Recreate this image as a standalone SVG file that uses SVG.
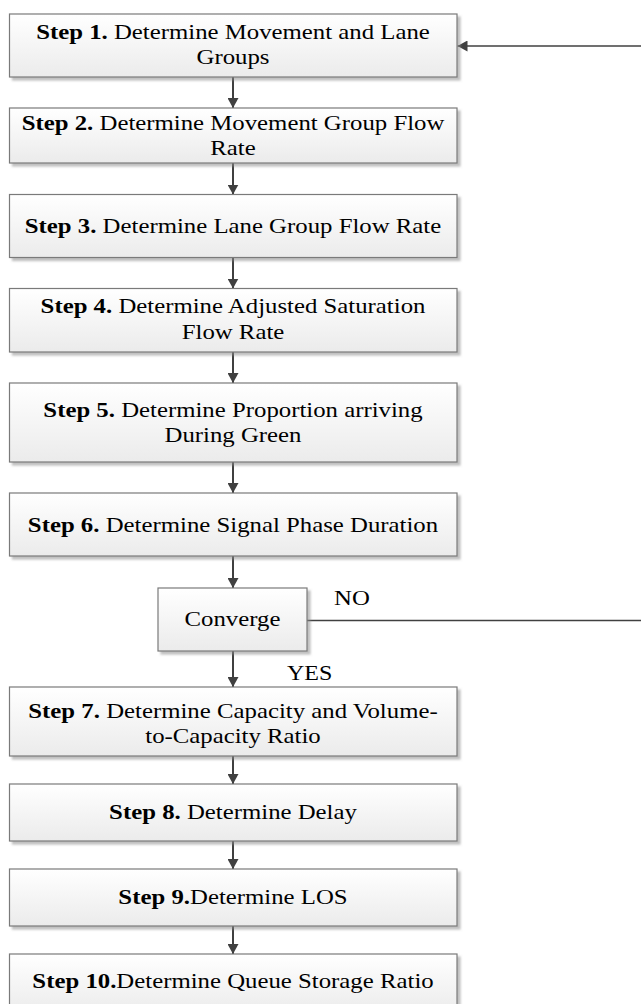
<svg xmlns="http://www.w3.org/2000/svg" width="641" height="1004" viewBox="0 0 641 1004">
<defs>
<linearGradient id="g" x1="0" y1="0" x2="0" y2="1">
<stop offset="0" stop-color="#ffffff"/>
<stop offset="1" stop-color="#ebebeb"/>
</linearGradient>
<filter id="sh" x="-5%" y="-10%" width="115%" height="130%">
<feDropShadow dx="3" dy="3" stdDeviation="1.2" flood-color="#8a8a8a" flood-opacity="0.55"/>
</filter>
<marker id="ah" markerUnits="userSpaceOnUse" markerWidth="11" markerHeight="11" refX="10" refY="5.5" orient="auto">
<path d="M0,0 L10,5.5 L0,11 z" fill="#404040"/>
</marker>
</defs>
<style>
.box{fill:url(#g);stroke:#7a7a7a;stroke-width:1.2;filter:url(#sh)}
.t{font-family:"Liberation Serif","Times New Roman",serif;font-size:20px;fill:#000;text-anchor:middle}
.l{font-family:"Liberation Serif","Times New Roman",serif;font-size:20px;fill:#000}
.b{font-weight:bold}
.c{stroke:#404040;stroke-width:2;fill:none}
.c1{stroke:#404040;stroke-width:1.3;fill:none}
</style>
<g id="connectors">
<line class="c" x1="233" y1="77" x2="233" y2="108" marker-end="url(#ah)"/>
<line class="c" x1="233" y1="163" x2="233" y2="194.5" marker-end="url(#ah)"/>
<line class="c" x1="233" y1="257.5" x2="233" y2="288.5" marker-end="url(#ah)"/>
<line class="c" x1="233" y1="352" x2="233" y2="383" marker-end="url(#ah)"/>
<line class="c" x1="233" y1="462" x2="233" y2="493" marker-end="url(#ah)"/>
<line class="c" x1="233" y1="556" x2="233" y2="588" marker-end="url(#ah)"/>
<line class="c" x1="233" y1="651" x2="233" y2="687" marker-end="url(#ah)"/>
<line class="c" x1="233" y1="756" x2="233" y2="784" marker-end="url(#ah)"/>
<line class="c" x1="233" y1="841" x2="233" y2="869" marker-end="url(#ah)"/>
<line class="c" x1="233" y1="926" x2="233" y2="954" marker-end="url(#ah)"/>
<line class="c1" x1="307" y1="620.5" x2="641" y2="620.5"/>
<line class="c1" x1="641" y1="46" x2="457.5" y2="46" marker-end="url(#ah)"/>
<text class="l" transform="translate(334 605) scale(1.24 1)">NO</text>
<text class="l" transform="translate(287 680) scale(1.2 1)">YES</text>
</g>
<g id="step1">
<rect class="box" x="9.5" y="14" width="447.5" height="63"/>
<text class="t" transform="translate(233 39) scale(1.24 1)"><tspan class="b">Step 1.</tspan> Determine Movement and Lane</text>
<text class="t" transform="translate(233 63.5) scale(1.24 1)">Groups</text>
</g>
<g id="step2">
<rect class="box" x="9.5" y="108" width="447.5" height="55"/>
<text class="t" transform="translate(233 130) scale(1.24 1)"><tspan class="b">Step 2.</tspan> Determine Movement Group Flow</text>
<text class="t" transform="translate(233 155) scale(1.24 1)">Rate</text>
</g>
<g id="step3">
<rect class="box" x="9.5" y="194.5" width="447.5" height="63"/>
<text class="t" transform="translate(233 233.3) scale(1.24 1)"><tspan class="b">Step 3.</tspan> Determine Lane Group Flow Rate</text>
</g>
<g id="step4">
<rect class="box" x="9.5" y="288.5" width="447.5" height="63.5"/>
<text class="t" transform="translate(233 313.3) scale(1.24 1)"><tspan class="b">Step 4.</tspan> Determine Adjusted Saturation</text>
<text class="t" transform="translate(233 339.3) scale(1.24 1)">Flow Rate</text>
</g>
<g id="step5">
<rect class="box" x="9.5" y="383" width="447.5" height="79"/>
<text class="t" transform="translate(233 416.7) scale(1.24 1)"><tspan class="b">Step 5.</tspan> Determine Proportion arriving</text>
<text class="t" transform="translate(233 441.7) scale(1.24 1)">During Green</text>
</g>
<g id="step6">
<rect class="box" x="9.5" y="493" width="447.5" height="63"/>
<text class="t" transform="translate(233 531.7) scale(1.24 1)"><tspan class="b">Step 6.</tspan> Determine Signal Phase Duration</text>
</g>
<g id="converge">
<rect class="box" x="158" y="588" width="149" height="63"/>
<text class="t" transform="translate(232.5 626) scale(1.24 1)">Converge</text>
</g>
<g id="step7">
<rect class="box" x="9.5" y="687" width="447.5" height="69"/>
<text class="t" transform="translate(233 718.3) scale(1.24 1)"><tspan class="b">Step 7.</tspan> Determine Capacity and Volume-</text>
<text class="t" transform="translate(233 743.3) scale(1.24 1)">to-Capacity Ratio</text>
</g>
<g id="step8">
<rect class="box" x="9.5" y="784" width="447.5" height="57"/>
<text class="t" transform="translate(233 819.3) scale(1.24 1)"><tspan class="b">Step 8.</tspan> Determine Delay</text>
</g>
<g id="step9">
<rect class="box" x="9.5" y="869" width="447.5" height="57"/>
<text class="t" transform="translate(233 904) scale(1.24 1)"><tspan class="b">Step 9.</tspan>Determine LOS</text>
</g>
<g id="step10">
<rect class="box" x="9.5" y="954" width="447.5" height="60"/>
<text class="t" transform="translate(233 988) scale(1.24 1)"><tspan class="b">Step 10.</tspan>Determine Queue Storage Ratio</text>
</g>
</svg>
